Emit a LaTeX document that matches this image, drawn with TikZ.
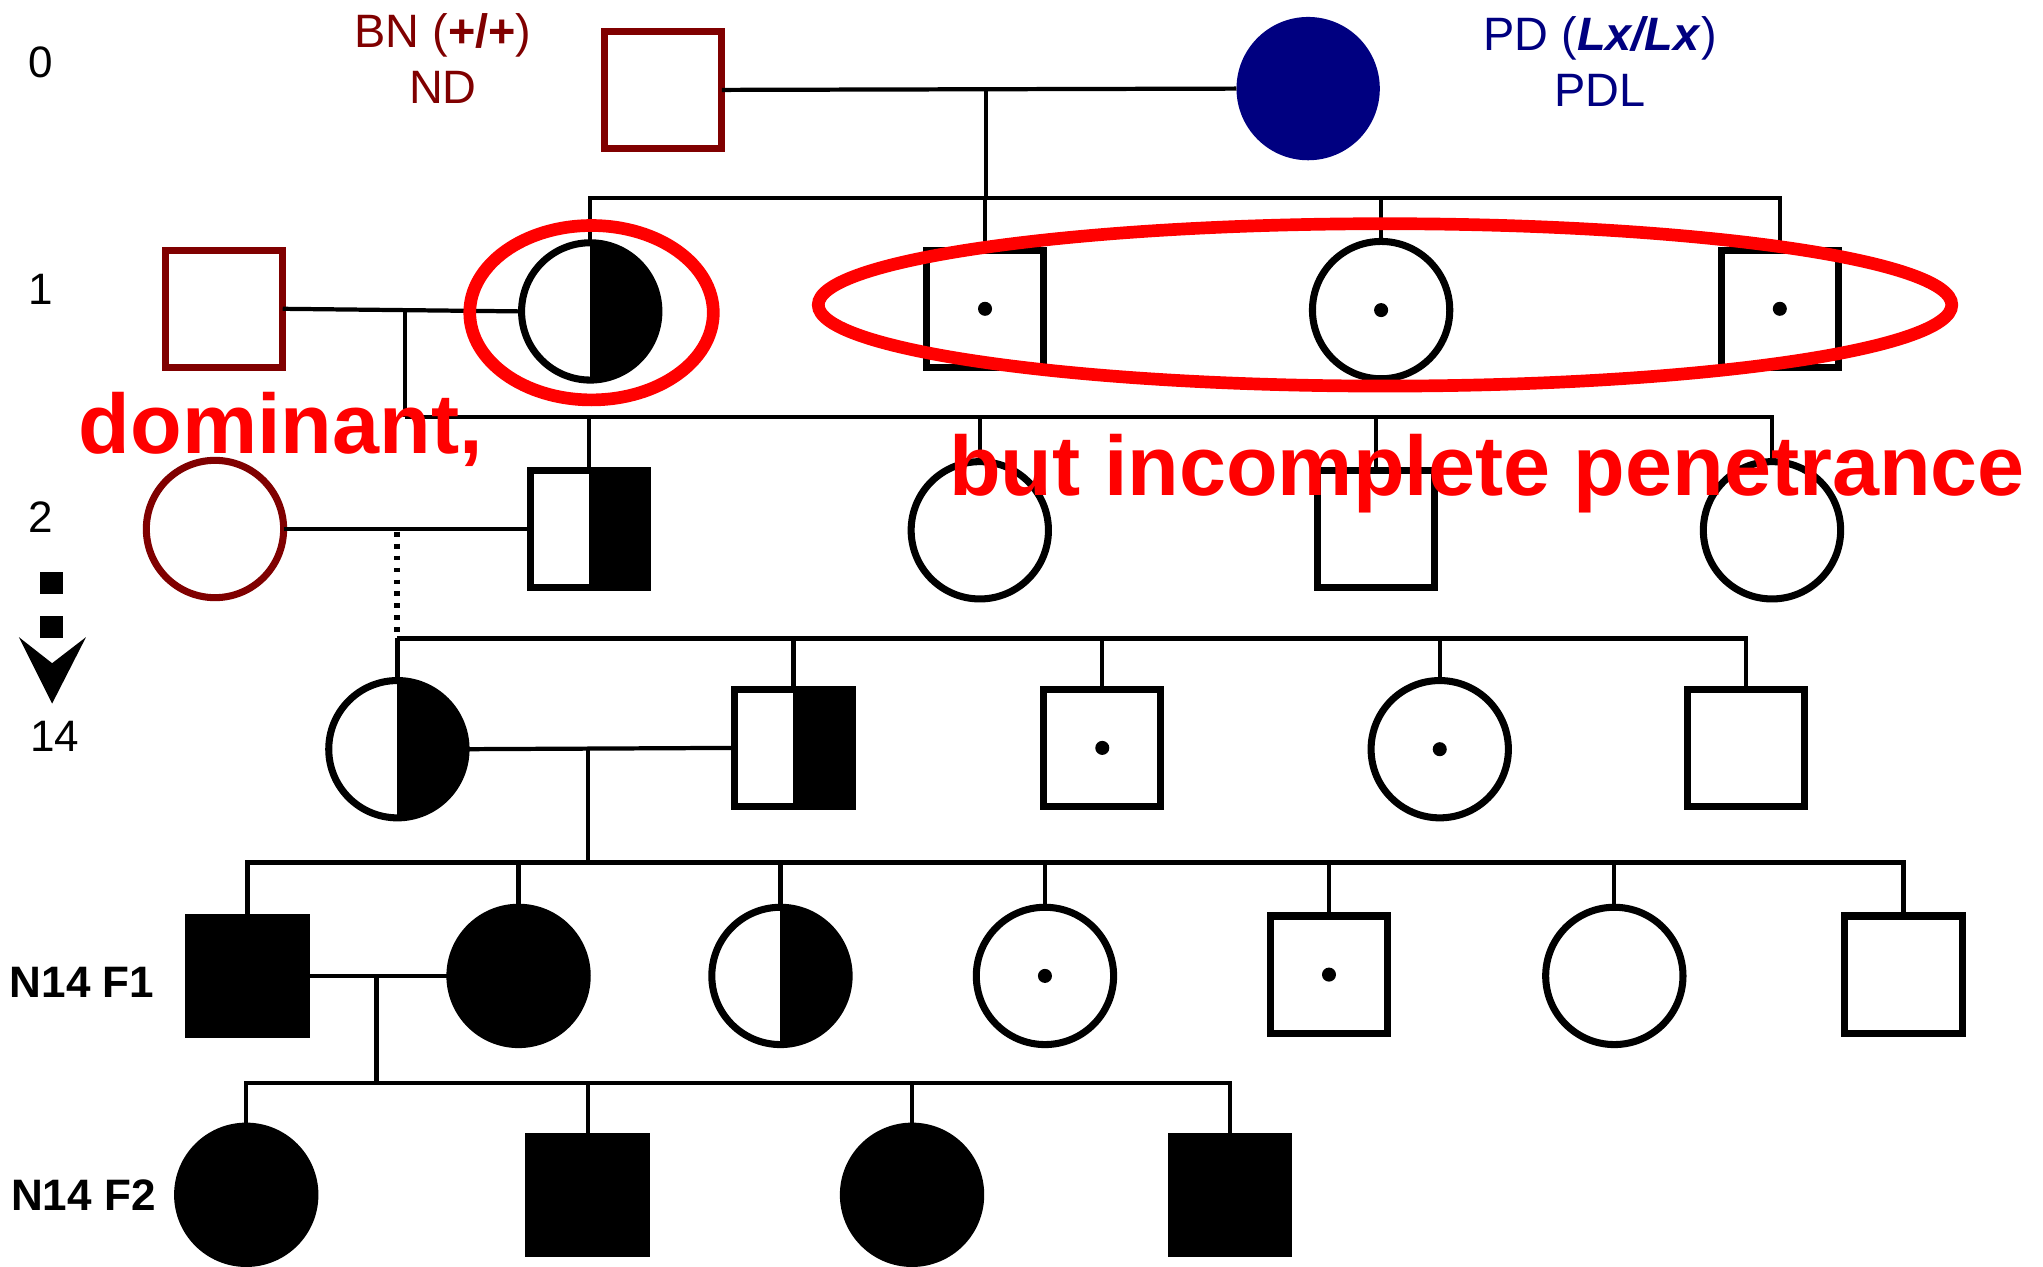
\documentclass[tikz,border=0pt]{standalone}
\usepackage{fontspec}
\setmainfont{Liberation Sans}
\definecolor{founderred}{RGB}{128,0,0}
\definecolor{foundernavy}{RGB}{0,0,128}
\definecolor{markred}{RGB}{255,0,0}
\begin{document}
\begin{tikzpicture}[x=0.013cm,y=-0.013cm,
  person/.style={draw, line width=2pt, inner sep=0pt, outer sep=0pt},
  male/.style={person, rectangle, minimum size=1.17cm},
  female/.style={person, circle, minimum size=1.37cm},
  affected/.style={fill=black},
  halfaff/.style={path picture={\fill[black] (path picture bounding box.north) rectangle (path picture bounding box.south east);}},
  carrier/.style={path picture={\fill[black] (path picture bounding box.center) circle (0.07cm);}},
  founder/.style={draw=founderred},
  tie/.style={line width=1.2pt},
  dottie/.style={line width=1.7pt, dash pattern=on 1.4pt off 2pt},
  genlabel/.style={font=\fontsize{12.5}{15}\selectfont, inner sep=0pt},
  foundlabel/.style={font=\fontsize{13.3}{16}\selectfont, inner sep=0pt, align=center},
  note/.style={font=\fontsize{24}{28}\selectfont\bfseries, text=markred, inner sep=0pt, anchor=base west},
  ring/.style={draw=markred, line width=3.6pt}
]
\useasboundingbox (0,0) rectangle (1568,972);

% generation labels
\node[genlabel] (l0) at (31,48) {0};
\node[genlabel] (l1) at (31,222) {1};
\node[genlabel] (l2) at (31,397) {2};
\node[genlabel] (l14) at (42,565) {14};
\node[genlabel, font=\fontsize{12.5}{15}\selectfont\bfseries] (lf1) at (63,754) {N14 F1};
\node[genlabel, font=\fontsize{12.5}{15}\selectfont\bfseries] (lf2) at (64,917) {N14 F2};

% dashed arrow from generation 2 to 14
\fill (31,439) rectangle (48,456);
\fill (31,473) rectangle (48,490);
\fill (14.5,489) -- (40,509) -- (66,489) -- (40,540) -- cycle;

% founder labels
\node[foundlabel, text=founderred] (bn) at (340,45) {BN (\textbf{+/+})\\ND};
\node[foundlabel, text=foundernavy] (pd) at (1228,47) {PD (\textbf{\textit{Lx/Lx}})\\PDL};

% generation 0
\node[male, founder] (g0m) at (509,69) {};
\node[female, fill=foundernavy, draw=none, minimum size=1.43cm] (g0f) at (1004,68) {};

% generation 1
\node[male, founder] (g1m) at (172,237) {};
\node[female, halfaff] (g1a) at (453,239) {};
\node[male, carrier] (g1b) at (756,237) {};
\node[female, carrier] (g1c) at (1060,238) {};
\node[male, carrier] (g1d) at (1366,237) {};

% generation 2
\node[female, founder] (g2f) at (165,406) {};
\node[male, halfaff] (g2a) at (452,406) {};
\node[female] (g2b) at (752,407) {};
\node[male] (g2c) at (1056,406) {};
\node[female] (g2d) at (1360,407) {};

% generation 14
\node[female, halfaff] (g14a) at (305,575) {};
\node[male, halfaff] (g14b) at (609,574) {};
\node[male, carrier] (g14c) at (846,574) {};
\node[female, carrier] (g14d) at (1105,575) {};
\node[male] (g14e) at (1340,574) {};

% N14 F1
\node[male, affected] (f1a) at (190,749) {};
\node[female, affected] (f1b) at (398,749) {};
\node[female, halfaff] (f1c) at (599,749) {};
\node[female, carrier] (f1d) at (802,749) {};
\node[male, carrier] (f1e) at (1020,748) {};
\node[female] (f1f) at (1239,749) {};
\node[male] (f1g) at (1461,748) {};

% N14 F2
\node[female, affected] (f2a) at (189,917) {};
\node[male, affected] (f2b) at (451,917) {};
\node[female, affected] (f2c) at (700,917) {};
\node[male, affected] (f2d) at (944,917) {};

% matings and sibships
\draw[tie] (g0m.east) -- (g0f.west);
\coordinate (m0) at (757,68);
\coordinate (s0) at (757,152);
\draw[tie] (m0) -- (s0);
\foreach \c in {g1a,g1b,g1c,g1d} \draw[tie] (\c.north) |- (s0);

\draw[tie] (g1m.east) -- (g1a.west);
\coordinate (m1) at (311,238);
\coordinate (s1) at (311,320);
\draw[tie] (m1) -- (s1);
\foreach \c in {g2a,g2b,g2c,g2d} \draw[tie] (\c.north) |- (s1);

\draw[tie] (g2f.east) -- (g2a.west);
\coordinate (m2) at (305,408);
\coordinate (s2) at (305,490);
\draw[dottie] (m2) -- (s2);
\foreach \c in {g14a,g14b,g14c,g14d,g14e} \draw[tie] (\c.north) |- (s2);

\draw[tie] (g14a.east) -- (g14b.west);
\coordinate (m14) at (451,574);
\coordinate (s14) at (451,662);
\draw[tie] (m14) -- (s14);
\foreach \c in {f1a,f1b,f1c,f1d,f1e,f1f,f1g} \draw[tie] (\c.north) |- (s14);

\draw[tie] (f1a.east) -- (f1b.west);
\coordinate (m15) at (289,748);
\coordinate (s15) at (289,831);
\draw[tie] (m15) -- (s15);
\foreach \c in {f2a,f2b,f2c,f2d} \draw[tie] (\c.north) |- (s15);

% highlighted groups
\draw[ring] (454,240) ellipse [x radius=1.215cm, y radius=0.87cm];
\draw[ring] (1063,234) ellipse [x radius=5.655cm, y radius=0.81cm];

% annotations
\node[note] (dom) at (60,348) {dominant,};
\node[note] (pen) at (728,380) {but incomplete penetrance};
\end{tikzpicture}
\end{document}
